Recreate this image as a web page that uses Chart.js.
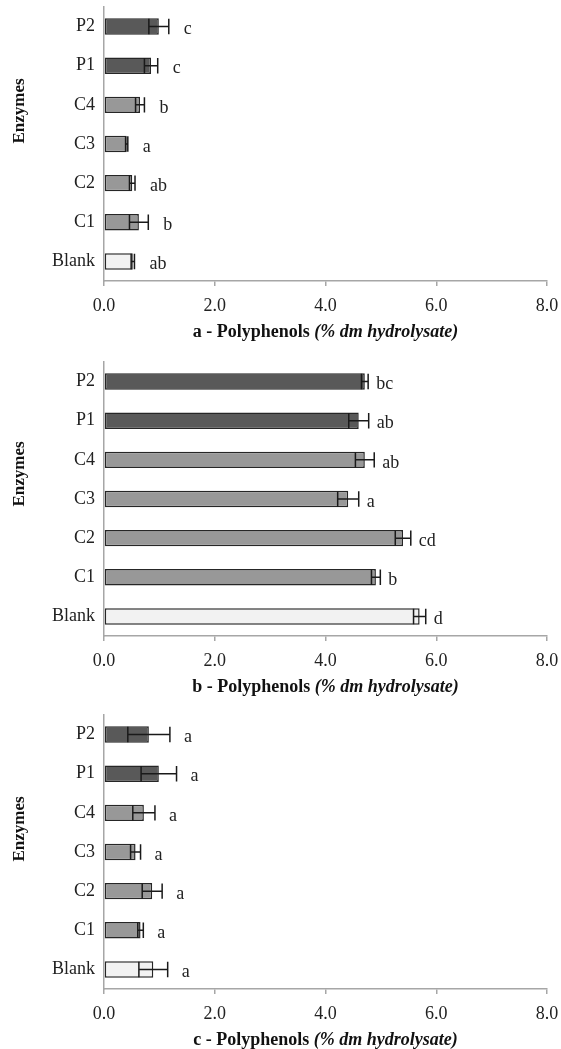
<!DOCTYPE html>
<html>
<head>
<meta charset="utf-8">
<script src="https://cdn.jsdelivr.net/npm/chart.js@4"></script>
<style>
  body { margin: 0; background: #fff; overflow: hidden; }
  .panel { position: absolute; left: 0; width: 561px; height: 346px; }
</style>
</head>
<body>
<div class="panel" style="top:0px"><canvas id="chartA" width="561" height="346"></canvas></div>
<div class="panel" style="top:355px"><canvas id="chartB" width="561" height="346"></canvas></div>
<div class="panel" style="top:708px"><canvas id="chartC" width="561" height="346"></canvas></div>
<script>
// categories, top to bottom
var enzymes = ["P2", "P1", "C4", "C3", "C2", "C1", "Blank"];
var xTicks = [0, 2, 4, 6, 8];

// panel a
var polyA = [0.99, 0.85, 0.65, 0.41, 0.51, 0.63, 0.52];
var errA = [0.18, 0.12, 0.08, 0.02, 0.05, 0.17, 0.03];
var letA = ["c", "c", "b", "a", "ab", "b", "ab"];

// panel b
var polyB = [4.71, 4.60, 4.71, 4.41, 5.40, 4.91, 5.70];
var errB = [0.06, 0.18, 0.17, 0.19, 0.14, 0.08, 0.11];
var letB = ["bc", "ab", "ab", "a", "cd", "b", "d"];

// panel c
var polyC = [0.81, 0.99, 0.72, 0.57, 0.87, 0.66, 0.89];
var errC = [0.38, 0.32, 0.20, 0.09, 0.18, 0.05, 0.26];
var letC = ["a", "a", "a", "a", "a", "a", "a"];

var serif = "'Liberation Serif', 'Times New Roman', serif";

function fillFor(name) {
  if (name.charAt(0) == "P") return "#595959";
  if (name.charAt(0) == "C") return "#989898";
  return "#f2f2f2";
}

// error bars + significance letters
var errorBars = {
  id: 'errorBars',
  afterDatasetsDraw: function(chart, args, opts) {
    var ctx = chart.ctx;
    var xs = chart.scales.x;
    var meta = chart.getDatasetMeta(0);
    var vals = chart.data.datasets[0].data;
    ctx.save();
    ctx.strokeStyle = "#1a1a1a";
    ctx.lineWidth = 1.5;
    for (var i = 0; i < vals.length; i++) {
      var bar = meta.data[i];
      var y = bar.y;
      var h = bar.height * 0.47;
      var xl = xs.getPixelForValue(vals[i] - opts.errors[i]);
      var xr = xs.getPixelForValue(vals[i] + opts.errors[i]);
      ctx.beginPath();
      ctx.moveTo(xl, y); ctx.lineTo(xr, y);
      ctx.moveTo(xl, y - h); ctx.lineTo(xl, y + h);
      ctx.moveTo(xr, y - h); ctx.lineTo(xr, y + h);
      ctx.stroke();
      ctx.fillStyle = "#222";
      ctx.font = "18px " + serif;
      ctx.textAlign = "left";
      ctx.textBaseline = "middle";
      ctx.fillText(opts.letters[i], xr + opts.gap, y + 3);
    }
    ctx.restore();
  }
};

// axis titles with mixed bold / bold italic
var axisTitles = {
  id: 'axisTitles',
  afterDraw: function(chart, args, opts) {
    var ctx = chart.ctx;
    var area = chart.chartArea;
    ctx.save();
    ctx.fillStyle = "#111";
    ctx.textBaseline = "middle";
    var f1 = "bold 18px " + serif;
    var f2 = "italic bold 18px " + serif;
    ctx.font = f1;
    var w1 = ctx.measureText(opts.main).width;
    ctx.font = f2;
    var w2 = ctx.measureText(opts.unit).width;
    var x0 = (area.left + area.right) / 2 - (w1 + w2) / 2;
    var y0 = area.bottom + 51;
    ctx.textAlign = "left";
    ctx.font = f1;
    ctx.fillText(opts.main, x0, y0);
    ctx.font = f2;
    ctx.fillText(opts.unit, x0 + w1, y0);

    ctx.translate(20, (area.top + area.bottom) / 2 + opts.yShift);
    ctx.rotate(-Math.PI / 2);
    ctx.textAlign = "center";
    ctx.font = "bold 17px " + serif;
    ctx.fillText("Enzymes", 0, 0);
    ctx.restore();
  }
};

function makeChart(id, values, errors, letters, gap, prefix, yShift) {
  var ctx = document.getElementById(id).getContext('2d');
  return new Chart(ctx, {
    type: 'bar',
    data: {
      labels: enzymes,
      datasets: [{
        data: values,
        backgroundColor: enzymes.map(fillFor),
        borderColor: "#262626",
        borderWidth: 1.5,
        borderSkipped: false,
        categoryPercentage: 1,
        barPercentage: 0.42
      }]
    },
    plugins: [errorBars, axisTitles],
    options: {
      indexAxis: 'y',
      responsive: false,
      animation: false,
      layout: { padding: { top: 7, right: 14, left: 0, bottom: 0 } },
      plugins: {
        legend: { display: false },
        tooltip: { enabled: false },
        errorBars: { errors: errors, letters: letters, gap: gap },
        axisTitles: { main: prefix + " - Polyphenols ", unit: "(% dm hydrolysate)", yShift: yShift }
      },
      scales: {
        x: {
          min: 0,
          max: 8,
          afterBuildTicks: function(scale) {
            scale.ticks = xTicks.map(function(v) { return { value: v }; });
          },
          afterFit: function(scale) {
            scale.height = 65;
            scale.paddingLeft = 0;
            scale.paddingRight = 0;
          },
          grid: { drawOnChartArea: false, drawTicks: true, tickLength: 5, color: "#a6a6a6", lineWidth: 1.5 },
          border: { display: true, color: "#a6a6a6", width: 1.5 },
          ticks: {
            padding: 9,
            color: "#222",
            font: { family: serif, size: 18 },
            callback: function(v) { return Number(v).toFixed(1); }
          }
        },
        y: {
          afterFit: function(scale) {
            scale.width = 104;
            scale.paddingTop = 0;
            scale.paddingBottom = 0;
          },
          grid: { drawOnChartArea: false, drawTicks: false },
          border: { display: true, color: "#a6a6a6", width: 1.5 },
          ticks: {
            padding: 9,
            color: "#222",
            font: { family: serif, size: 18 }
          }
        }
      }
    }
  });
}

makeChart('chartA', polyA, errA, letA, 15, "a", -33);
makeChart('chartB', polyB, errB, letB, 8, "b", -25);
makeChart('chartC', polyC, errC, letC, 14, "c", -23);
</script>
</body>
</html>
